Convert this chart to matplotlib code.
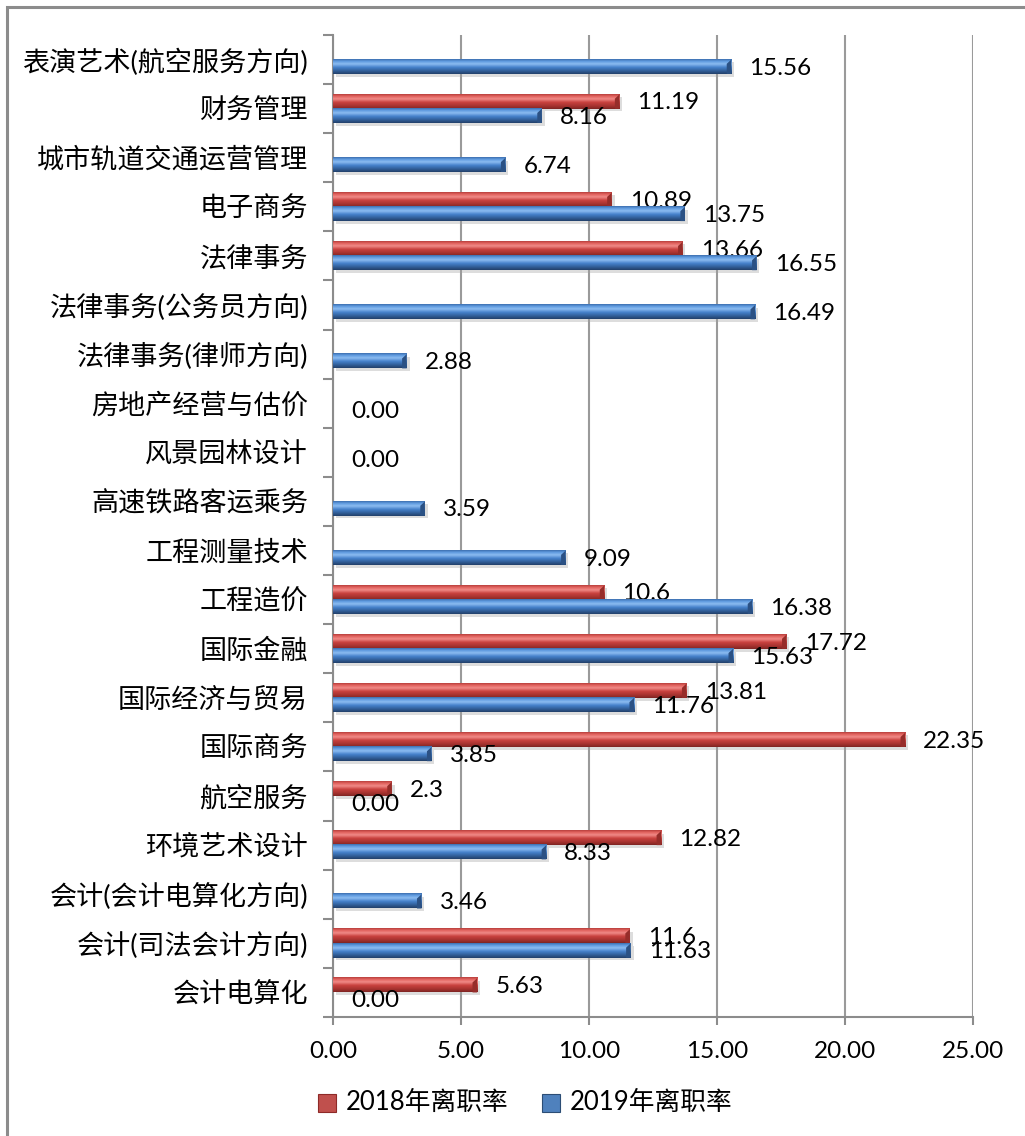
import numpy as np
import matplotlib
matplotlib.use("Agg")
import matplotlib.pyplot as plt
from matplotlib.colors import LinearSegmentedColormap
from matplotlib.patches import Rectangle, Patch
import matplotlib.patheffects as pe
from matplotlib.legend_handler import HandlerPatch

plt.rcParams['font.family'] = ['Lato', 'Noto Sans CJK SC', 'DejaVu Sans']

# Majors, listed from the bottom of the chart upwards
majors = [
    "会计电算化", "会计(司法会计方向)", "会计(会计电算化方向)", "环境艺术设计",
    "航空服务", "国际商务", "国际经济与贸易", "国际金融", "工程造价",
    "工程测量技术", "高速铁路客运乘务", "风景园林设计", "房地产经营与估价",
    "法律事务(律师方向)", "法律事务(公务员方向)", "法律事务", "电子商务",
    "城市轨道交通运营管理", "财务管理", "表演艺术(航空服务方向)",
]
# Turnover rate (%) per year; None = no data for that year
rate_2018 = [5.63, 11.6, None, 12.82, 2.3, 22.35, 13.81, 17.72, 10.6,
             None, None, None, None, None, None, 13.66, 10.89, None, 11.19, None]
rate_2019 = [0.00, 11.63, 3.46, 8.33, 0.00, 3.85, 11.76, 15.63, 16.38,
             9.09, 3.59, 0.00, 0.00, 2.88, 16.49, 16.55, 13.75, 6.74, 8.16, 15.56]
series_names = ["2018年离职率", "2019年离职率"]
x_ticks = [0, 5, 10, 15, 20, 25]

W, H = 1025, 1136
fig = plt.figure(figsize=(W / 100, H / 100), dpi=100)
ax = fig.add_axes([333 / W, 1 - 1017 / H, (973 - 333) / W, (1017 - 35) / H])

# outer frame of the chart area
fig.patches.append(Rectangle((7 / W, -0.05), 1.2, 1 - 7 / H + 0.05,
                             transform=fig.transFigure, fill=False,
                             edgecolor="#8c8c8c", linewidth=2.2, zorder=0))

red_cmap = LinearSegmentedColormap.from_list("r3d", [
    (0.0, "#7e2523"), (0.18, "#a3312e"), (0.45, "#c9423f"),
    (0.68, "#f08a87"), (0.86, "#e2625e"), (1.0, "#b8403d")])
blue_cmap = LinearSegmentedColormap.from_list("b3d", [
    (0.0, "#23416a"), (0.18, "#2f5a92"), (0.45, "#4682cc"),
    (0.68, "#8cbcf0"), (0.86, "#5f9ae0"), (1.0, "#3d6fae")])
grad = np.linspace(0, 1, 64).reshape(-1, 1)

bar_h = 0.29
y = np.arange(len(majors))


def draw_bars(values, offset, cmap, base, z, fmt):
    for yi, v in zip(y, values):
        if v is None:
            continue
        yc = yi + offset
        if v > 0:
            ax.barh(yc, v, height=bar_h, color=base, zorder=z,
                    path_effects=[pe.SimplePatchShadow(offset=(2, -2),
                                                       shadow_rgbFace="#a0a0a0",
                                                       alpha=0.35),
                                  pe.Normal()])
            ax.imshow(grad, extent=[0, v, yc - bar_h / 2, yc + bar_h / 2],
                      origin="lower", aspect="auto", cmap=cmap,
                      interpolation="bilinear", zorder=z + 0.1)
            # darker bevelled end cap
            cap = min(0.18, v * 0.3)
            ax.fill([v - cap, v, v, v - cap],
                    [yc - bar_h / 2, yc - bar_h / 2, yc + bar_h / 2, yc + bar_h * 0.2],
                    color=cmap(0.12), zorder=z + 0.2, linewidth=0)
        ax.annotate(fmt(v), (v, yc), xytext=(13, -1), textcoords="offset points",
                    va="center", ha="left", fontsize=17.5, color="black",
                    zorder=z + 0.5, annotation_clip=False)


draw_bars(rate_2018, bar_h / 2, red_cmap, "#c0504d", 3, lambda v: f"{v:g}")
draw_bars(rate_2019, -bar_h / 2, blue_cmap, "#4f81bd", 5, lambda v: f"{v:.2f}")

ax.set_xlim(0, 25)
ax.set_ylim(-0.5, len(majors) - 0.5)
ax.set_xticks(x_ticks)
ax.set_xticklabels([f"{t:.2f}" for t in x_ticks], fontsize=17.5)
ax.set_yticks(y)
ax.set_yticklabels(majors, fontsize=19.5)
ax.set_yticks(np.arange(len(majors) + 1) - 0.5, minor=True)
ax.tick_params(axis="y", which="major", length=0, pad=18)
ax.tick_params(axis="y", which="minor", length=7, width=1.5, color="#8c8c8c",
               direction="out")
ax.tick_params(axis="x", which="major", length=6, width=1.5, color="#8c8c8c",
               pad=11)
ax.grid(axis="x", color="#9a9a9a", linewidth=1.5, zorder=0)
ax.set_axisbelow(True)
for s in ("top", "right"):
    ax.spines[s].set_visible(False)
for s in ("left", "bottom"):
    ax.spines[s].set_color("#8c8c8c")
    ax.spines[s].set_linewidth(1.5)


class Handler3D(HandlerPatch):
    def create_artists(self, legend, orig_handle, xdescent, ydescent, width,
                       height, fontsize, trans):
        s = min(width, height) * 0.95
        x0 = (width - s) / 2 - xdescent
        y0 = -ydescent + (height - s) / 2 - 2
        r = Rectangle((x0, y0), s, s, facecolor=orig_handle.get_facecolor(),
                      edgecolor=orig_handle.get_edgecolor(), linewidth=0.8,
                      transform=trans)
        return [r]


handles = [Patch(facecolor="#c0504d", edgecolor="#8e2a28"),
           Patch(facecolor="#4f81bd", edgecolor="#2c4d75")]
fig.legend(handles, series_names, loc="center", bbox_to_anchor=(525 / W, 1 - 1102 / H),
           ncol=2, frameon=False, fontsize=18.5, handlelength=0.75, handleheight=0.75,
           handletextpad=0.35, columnspacing=1.3,
           handler_map={Patch: Handler3D()})

fig.savefig("out.png", dpi=100)
